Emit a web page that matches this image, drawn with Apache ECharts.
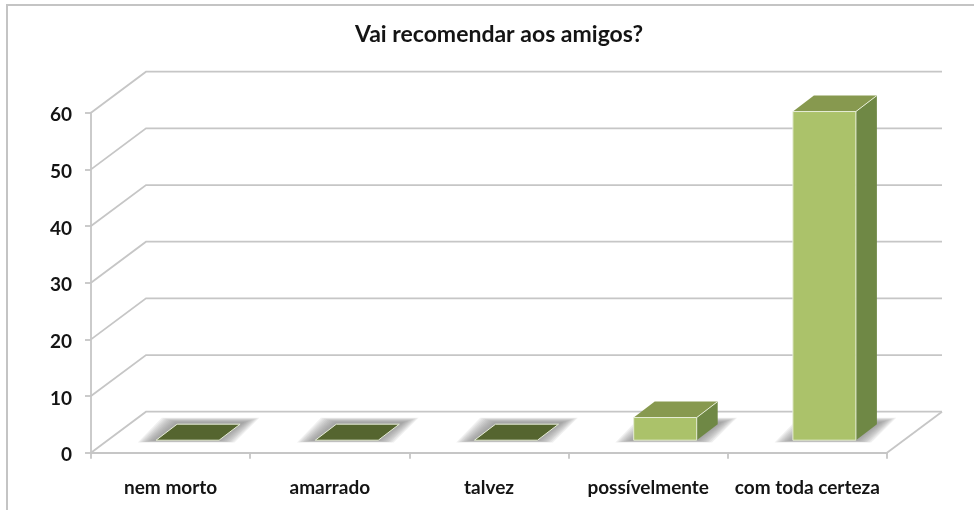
<!DOCTYPE html>
<html><head><meta charset="utf-8">
<style>html,body{margin:0;padding:0;background:#fff}#main{width:974px;height:510px;filter:blur(0.7px)}</style>
<script src="https://cdn.jsdelivr.net/npm/echarts@6/dist/echarts.min.js"></script>
</head><body><div id="main"></div>
<script>
const titleText = 'Vai recomendar aos amigos?';
const categories = ['nem morto', 'amarrado', 'talvez', 'possívelmente', 'com toda certeza'];
const values = [0, 0, 0, 4, 58];
const wallTicks = [0, 10, 20, 30, 40, 50, 60];

const FONT = 'Lato';
const INK = '#141414';
const GRID = '#c6c6c6';
const FRONT = '#abc26a', TOP = '#87994f', SIDE = '#6f8845', FLAT = '#55652f', EDGE = '#e6edd6';
const WALL_DX = 55, WALL_DY = 41;
const OFF_DX = 17, OFF_DY = 12.5;
const BAR_DX = 21, BAR_DY = 16;
const BAR_W = 63;
const SHADOW_STEPS = [9, 8, 7, 6, 5, 4, 3, 2, 1, 0];

const chart = echarts.init(document.getElementById('main'), null, {renderer: 'canvas'});

function renderWall(params, api) {
  const v = api.value(0);
  const cs = params.coordSys;
  const y = api.coord([0, v])[1];
  const x0 = cs.x, x1 = cs.x + cs.width;
  const lineStyle = {stroke: GRID, lineWidth: 1.8, fill: null};
  const children = [
    {type: 'polyline', shape: {points: [[x0, y], [x0 + WALL_DX, y - WALL_DY], [x1 + WALL_DX, y - WALL_DY]]}, style: lineStyle}
  ];
  if (v === 0) {
    children.push({type: 'line', shape: {x1: x1, y1: y, x2: x1 + WALL_DX, y2: y - WALL_DY}, style: lineStyle});
  }
  return {type: 'group', children};
}

function renderBar(params, api) {
  const i = api.value(0), v = api.value(1);
  const base = api.coord([i, 0]);
  const top = api.coord([i, v]);
  const x0 = base[0] - BAR_W / 2 + OFF_DX, x1 = x0 + BAR_W;
  const yb = base[1] - OFF_DY, yt = top[1] - OFF_DY;
  const children = SHADOW_STEPS.map(k => {
    const e = k * 1.7, t = 2 + k * 0.5, b = 0.5 + k * 0.2;
    return {
      type: 'polygon',
      shape: {points: [[x0 - e - 3, yb + b], [x1 + e, yb + b], [x1 + BAR_DX + e + 4, yb - BAR_DY - t], [x0 + BAR_DX - e, yb - BAR_DY - t]]},
      style: {fill: 'rgba(140,140,140,0.13)'}
    };
  });
  if (v === 0) {
    children.push({type: 'polygon',
      shape: {points: [[x0, yb], [x1, yb], [x1 + BAR_DX, yb - BAR_DY], [x0 + BAR_DX, yb - BAR_DY]]},
      style: {fill: FLAT, stroke: EDGE, lineWidth: 1}});
  } else {
    children.push(
      {type: 'polygon', shape: {points: [[x1, yb], [x1 + BAR_DX, yb - BAR_DY], [x1 + BAR_DX, yt - BAR_DY], [x1, yt]]}, style: {fill: SIDE}},
      {type: 'polygon', shape: {points: [[x0, yt], [x1, yt], [x1 + BAR_DX, yt - BAR_DY], [x0 + BAR_DX, yt - BAR_DY]]}, style: {fill: TOP}},
      {type: 'rect', shape: {x: x0, y: yt, width: BAR_W, height: yb - yt}, style: {fill: FRONT, stroke: EDGE, lineWidth: 1}},
      {type: 'line', shape: {x1: x1, y1: yt, x2: x1 + BAR_DX, y2: yt - BAR_DY}, style: {stroke: EDGE, lineWidth: 1}}
    );
  }
  return {type: 'group', children};
}

chart.setOption({
  animation: false,
  backgroundColor: '#ffffff',
  title: {text: titleText, left: 494, top: 18, textAlign: 'center',
    textStyle: {fontFamily: FONT, fontWeight: 700, fontSize: 23, color: INK}},
  grid: {left: 91, right: 87, top: 112.7, bottom: 57.3},
  graphic: [{type: 'polyline', silent: true, z: 0,
    shape: {points: [[7, 510], [7, 5], [974, 5]]},
    style: {stroke: '#c4c4c4', lineWidth: 2, fill: null}}],
  xAxis: {type: 'category', data: categories, boundaryGap: true,
    axisLine: {lineStyle: {color: GRID, width: 1.8}},
    axisTick: {show: true, length: 6, alignWithLabel: false, lineStyle: {color: GRID, width: 1.8}},
    axisLabel: {margin: 26, interval: 0, fontFamily: FONT, fontWeight: 700, fontSize: 19, color: INK},
    splitLine: {show: false}},
  yAxis: {type: 'value', min: 0, max: 60, interval: 10,
    axisLine: {show: true, lineStyle: {color: GRID, width: 1.8}},
    axisTick: {show: true, length: 6, lineStyle: {color: GRID, width: 1.8}},
    axisLabel: {margin: 19, formatter: '{t|{value}}',
      rich: {t: {padding: [5, 0, 0, 0], fontFamily: FONT, fontWeight: 700, fontSize: 19, color: INK}}},
    splitLine: {show: false}},
  series: [
    {type: 'custom', name: 'walls', data: wallTicks.map(v => [v]), renderItem: renderWall, clip: false, silent: true, z: 1,
      encode: {y: 0}},
    {type: 'custom', name: 'Vai recomendar aos amigos?', data: values.map((v, i) => [i, v]), renderItem: renderBar, clip: false, z: 3,
      encode: {x: 0, y: 1}}
  ]
});
</script></body></html>
